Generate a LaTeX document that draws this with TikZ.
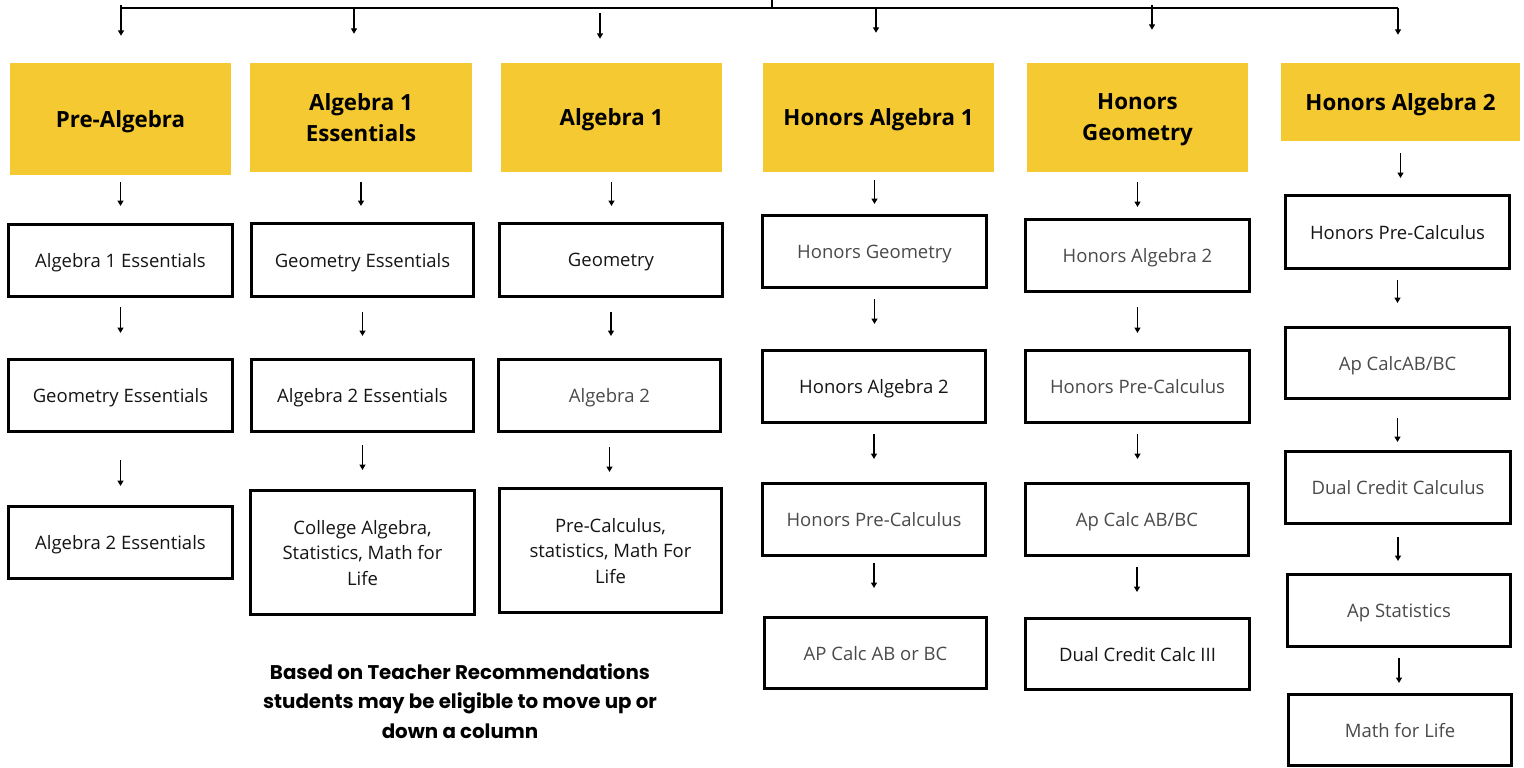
\documentclass[tikz,border=0pt]{standalone}
\usepackage{fontspec}
\setmainfont{Open Sans}
\newfontfamily\popfont{Poppins}
\usetikzlibrary{arrows.meta}
\definecolor{hdryellow}{HTML}{F5C931}
\definecolor{inkdark}{HTML}{151515}
\definecolor{inklight}{HTML}{4A4A4A}
\tikzset{
  dims/.style 2 args={minimum width=#1pt, minimum height=#2pt},
  hdr/.style={fill=hdryellow, draw=none, inner sep=0pt, align=center, text=black, text depth=0pt,
    font=\bfseries\fontsize{22.3}{31}\selectfont},
  wbox/.style={draw=black, line width=3pt, fill=white, inner sep=0pt, align=center, text depth=0pt,
    text=inkdark, font=\fontsize{18.5}{25.5}\selectfont, dims={224}{72}},
  lbox/.style={wbox, text=inklight},
  arr/.style={line width=1.6pt, -{Triangle[length=5.5pt,width=6pt]}},
  bar/.style={line width=2pt},
}
\begin{document}
\begin{tikzpicture}[x=1pt,y=-1pt]
\useasboundingbox (0,0) rectangle (1524,768);

% headers
\node[hdr, dims={221}{112}] (h1) at (120.5,119) {Pre-Algebra};
\node[hdr, dims={222}{109}] (h2) at (361,117.5) {Algebra 1\\Essentials};
\node[hdr, dims={221}{109}] (h3) at (611.5,117.5) {Algebra 1};
\node[hdr, dims={231}{109}] (h4) at (878.5,117.5) {Honors Algebra 1};
\node[hdr, dims={221}{109}] (h5) at (1137.5,117.5) {Honors\\Geometry};
\node[hdr, dims={239}{78}] (h6) at (1400.5,102) {Honors Algebra 2};

% column 1
\node[wbox] (b11) at (120.5,260.5) {Algebra 1 Essentials};
\node[wbox] (b12) at (120.5,395.5) {Geometry Essentials};
\node[wbox] (b13) at (120.5,542.5) {Algebra 2 Essentials};
% column 2
\node[wbox, dims={222}{73}] (b21) at (362.5,260) {Geometry Essentials};
\node[wbox, dims={222}{72}] (b22) at (362.5,395.5) {Algebra 2 Essentials};
\node[wbox, dims={224}{124}] (b23) at (362.5,552.5) {College Algebra,\\Statistics, Math for\\Life};
% column 3
\node[wbox, dims={223}{73}] (b31) at (611,260) {Geometry};
\node[lbox, dims={222}{72}] (b32) at (609.5,395.5) {Algebra 2};
\node[wbox, dims={222}{124}] (b33) at (610.5,550.5) {Pre-Calculus,\\statistics, Math For\\Life};
% column 4
\node[lbox] (b41) at (874.5,251.5) {Honors Geometry};
\node[wbox, dims={223}{72}] (b42) at (874,386.5) {Honors Algebra 2};
\node[lbox, dims={223}{72}] (b43) at (874,519.5) {Honors Pre-Calculus};
\node[lbox, dims={222}{71}] (b44) at (875.5,653) {AP Calc AB or BC};
% column 5
\node[lbox] (b51) at (1137.5,255.5) {Honors Algebra 2};
\node[lbox] (b52) at (1137.5,386.5) {Honors Pre-Calculus};
\node[lbox, dims={223}{72}] (b53) at (1137,519.5) {Ap Calc AB/BC};
\node[wbox, dims={224}{71}] (b54) at (1137.5,654) {Dual Credit Calc III};
% column 6
\node[wbox, dims={224}{73}] (b61) at (1397.5,232) {Honors Pre-Calculus};
\node[lbox, dims={224}{71}] (b62) at (1397.5,363) {Ap CalcAB/BC};
\node[lbox, dims={225}{72}] (b63) at (1398,487.5) {Dual Credit Calculus};
\node[lbox, dims={223}{72}] (b64) at (1399,610.5) {Ap Statistics};
\node[lbox, dims={223}{71}] (b65) at (1400,730) {Math for Life};

% note
\node[align=center, text=black, font=\popfont\bfseries\fontsize{19.8}{29.5}\selectfont] (note) at (460,701)
  {Based on Teacher Recommendations\\students may be eligible to move up or\\down a column};

% top distribution bar
\coordinate (stem) at (772,0);
\coordinate (barL) at (121,8);
\coordinate (barR) at (1398,8);
\coordinate (t1) at (121,5);
\coordinate (t2) at (354,8);
\coordinate (t3) at (600,13);
\coordinate (t4) at (876,8);
\coordinate (t5) at (1152,5);
\coordinate (t6) at (1398,8);
\draw[bar] (barL) -- (barR);
\draw[line width=1.5pt] (stem) -- (stem |- barL);
\draw[arr, shorten >=27pt] (t1) -- (t1 |- h1.north);
\draw[arr, shorten >=29pt] (t2) -- (t2 |- h2.north);
\draw[arr, shorten >=24pt] (t3) -- (t3 |- h3.north);
\draw[arr, shorten >=30pt] (t4) -- (t4 |- h4.north);
\draw[arr, shorten >=33pt] (t5) -- (t5 |- h5.north);
\draw[arr, shorten >=28pt] (t6) -- (t6 |- h6.north);

% column connectors
\draw[arr, shorten <=7pt, shorten >=17pt] (h1.south) -- (h1.south |- b11.north);
\draw[arr, shorten <=9pt, shorten >=25pt] (b11.south) -- (b11.south |- b12.north);
\draw[arr, shorten <=27pt, shorten >=19pt] (b12.south) -- (b12.south |- b13.north);

\draw[arr, shorten <=10pt, shorten >=16pt] (h2.south) -- (h2.south |- b21.north);
\draw[arr, shorten <=14pt, shorten >=22pt] (b21.south) -- (b21.south |- b22.north);
\draw[arr, shorten <=12pt, shorten >=19pt] (b22.south) -- (b22.south |- b23.north);

\draw[arr, shorten <=10pt, shorten >=16pt] (h3.south) -- (h3.south |- b31.north);
\draw[arr, shorten <=14pt, shorten >=22pt] (b31.south) -- (b31.south |- b32.north);
\draw[arr, shorten <=14pt, shorten >=15pt] (b32.south) -- (b32.south |- b33.north);

\draw[arr, shorten <=8pt, shorten >=10pt] (b41.north |- h4.south) -- (b41.north);
\draw[arr, shorten <=10pt, shorten >=25pt] (b41.south) -- (b41.south |- b42.north);
\draw[arr, shorten <=10pt, shorten >=23pt] (b42.south) -- (b42.south |- b43.north);
\draw[arr, shorten <=6pt, shorten >=28pt] (b43.south) -- (b43.south |- b44.north);

\draw[arr, shorten <=10pt, shorten >=11pt] (h5.south) -- (h5.south |- b51.north);
\draw[arr, shorten <=14pt, shorten >=16pt] (b51.south) -- (b51.south |- b52.north);
\draw[arr, shorten <=10pt, shorten >=23pt] (b52.south) -- (b52.south |- b53.north);
\draw[arr, shorten <=10pt, shorten >=25pt] (b53.south) -- (b53.south |- b54.north);

\draw[arr, shorten <=12pt, shorten >=16pt] (h6.south) -- (h6.south |- b61.north);
\draw[arr, shorten <=10pt, shorten >=23pt] (b61.south) -- (b61.south |- b62.north);
\draw[arr, shorten <=18pt, shorten >=8pt] (b62.south) -- (b62.south |- b63.north);
\draw[arr, shorten <=12pt, shorten >=12pt] (b63.south) -- (b63.south |- b64.north);
\draw[arr, shorten <=10pt, shorten >=10pt] (b64.south) -- (b64.south |- b65.north);
\end{tikzpicture}
\end{document}
